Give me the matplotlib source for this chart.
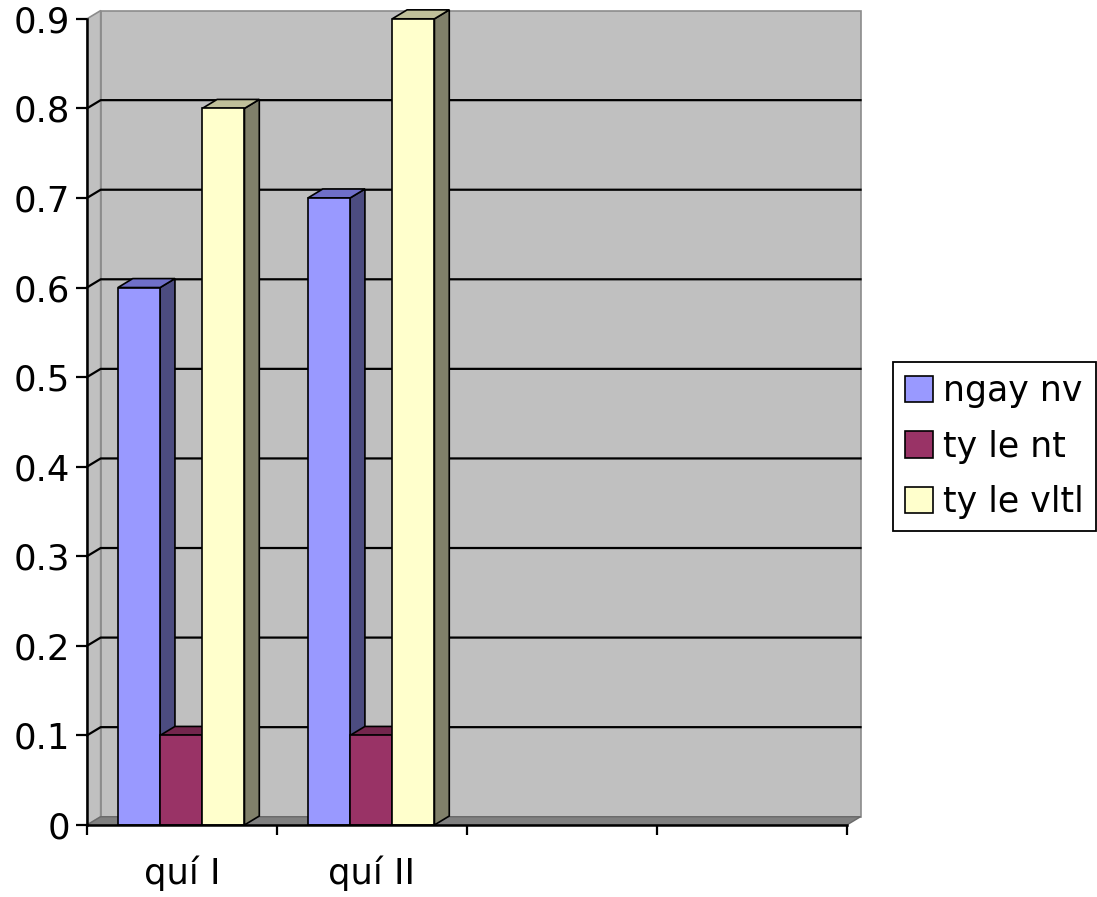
import numpy as np
import matplotlib.pyplot as plt
import matplotlib.patches as patches
from matplotlib.patches import Patch

categories = ["quí I", "quí II", "", ""]
series_names = ["ngay nv", "ty le nt", "ty le vltl"]
ngay_nv = [0.6, 0.7]
ty_le_nt = [0.1, 0.1]
ty_le_vltl = [0.8, 0.9]
y_ticks = [0, 0.1, 0.2, 0.3, 0.4, 0.5, 0.6, 0.7, 0.8, 0.9]

# front / top / side colours for each series (Excel 2003 look)
front_cols = ['#9999ff', '#993366', '#ffffcc']
top_cols = ['#6f6fc8', '#73264d', '#c0c09a']
side_cols = ['#4c4c80', '#4d1a33', '#80806a']

wall = '#c0c0c0'
floor = '#808080'

n_cat = len(categories)
ymax = y_ticks[-1]
dx, dy = 0.072, 0.0092      # depth offset of the walls
bdx, bdy = 0.078, 0.0100    # depth offset of the bars
bar_w = 0.222
group_off = 0.163

fig = plt.figure(figsize=(10.97, 8.97), dpi=100)
ax = fig.add_axes([0.0793, 0.0803, 0.710, 0.9187])
ax.set_xlim(0, 4.1)
ax.set_ylim(0, 0.92)

# back wall, side wall and floor
ax.add_patch(patches.Polygon([(dx, dy), (n_cat + dx, dy), (n_cat + dx, ymax + dy), (dx, ymax + dy)],
                             closed=True, facecolor=wall, edgecolor='#8c8c8c', lw=1.2, zorder=1, clip_on=False))
ax.add_patch(patches.Polygon([(0, 0), (dx, dy), (dx, ymax + dy), (0, ymax)],
                             closed=True, facecolor=wall, edgecolor='#8c8c8c', lw=1.2, zorder=1, clip_on=False))
ax.add_patch(patches.Polygon([(0, 0), (n_cat, 0), (n_cat + dx, dy), (dx, dy)],
                             closed=True, facecolor=floor, edgecolor='#6a6a6a', lw=1.0, zorder=1.5, clip_on=False))

# gridlines on the walls
for v in y_ticks[1:-1]:
    ax.plot([0, dx, n_cat + dx], [v, v + dy, v + dy], color='black', lw=1.6, zorder=2, clip_on=False)

# 3d bars
values = [ngay_nv, ty_le_nt, ty_le_vltl]
z = 3
for ci in range(len(ngay_nv)):
    for si in range(len(values)):
        v = values[si][ci]
        x0 = ci + group_off + si * bar_w
        x1 = x0 + bar_w
        ax.add_patch(patches.Polygon([(x1, 0), (x1 + bdx, bdy), (x1 + bdx, v + bdy), (x1, v)],
                                     closed=True, facecolor=side_cols[si], edgecolor='black', lw=1.2, zorder=z))
        ax.add_patch(patches.Polygon([(x0, v), (x1, v), (x1 + bdx, v + bdy), (x0 + bdx, v + bdy)],
                                     closed=True, facecolor=top_cols[si], edgecolor='black', lw=1.2, zorder=z))
        ax.bar(x0, v, width=bar_w, align='edge', color=front_cols[si], edgecolor='black', lw=1.2, zorder=z + 0.5)
        z += 1

for s in ['top', 'right']:
    ax.spines[s].set_visible(False)
ax.spines['left'].set_bounds(0, ymax)
ax.spines['bottom'].set_bounds(0, n_cat)
for s in ['left', 'bottom']:
    ax.spines[s].set_linewidth(1.8)
    ax.spines[s].set_zorder(20)
ax.set_facecolor('none')

ax.set_yticks(y_ticks)
ax.set_yticklabels(['%g' % t for t in y_ticks], fontsize=25.5)
ax.tick_params(axis='y', length=8, width=1.6, pad=4, direction='out')

ax.set_xticks(np.arange(n_cat + 1))
ax.set_xticklabels([])
ax.tick_params(axis='x', which='major', length=7.5, width=1.6, direction='out')
ax.set_xticks(np.arange(n_cat) + 0.5, minor=True)
ax.set_xticklabels(categories, minor=True, fontsize=25.5)
ax.tick_params(axis='x', which='minor', length=0, pad=22)

handles = [Patch(facecolor=c, edgecolor='black', lw=1.2) for c in front_cols]
leg = fig.legend(handles, series_names, loc='upper left', bbox_to_anchor=(893 / 1097, 1 - 362 / 897),
                 fontsize=25, frameon=True, fancybox=False, edgecolor='black', framealpha=1,
                 handlelength=0.8, handleheight=0.8, handletextpad=0.3, borderpad=0.35,
                 labelspacing=0.62, borderaxespad=0)
leg.get_frame().set_linewidth(1.3)

fig.savefig('out.png', dpi=100, facecolor='white')
